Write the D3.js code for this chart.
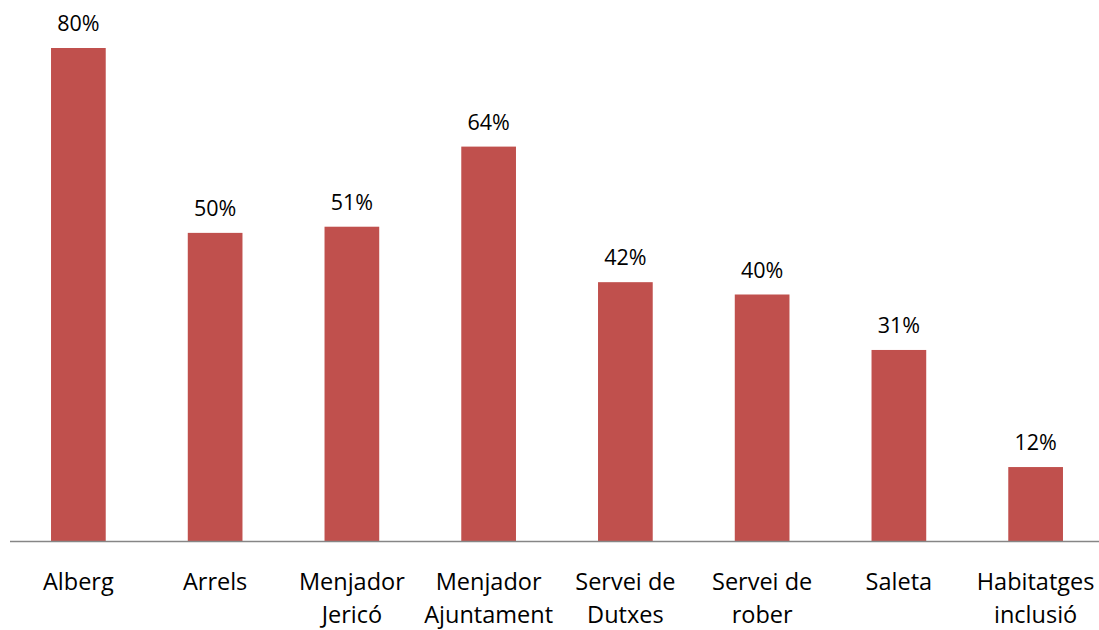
<!DOCTYPE html>
<html lang="en">
<head>
<meta charset="UTF-8"/>
<title>Bar chart</title>
<script src="https://d3js.org/d3.v7.min.js"></script>
<style>
  body { margin: 0; background: #fff; }
  text { font-family: "Open Sans", sans-serif; fill: #000; }
</style>
</head>
<body>
<div id="chart"></div>
<script>
// data
var categories = ["Alberg", "Arrels", "Menjador Jericó", "Menjador Ajuntament",
                  "Servei de Dutxes", "Servei de rober", "Saleta", "Habitatges inclusió"];
var catLines = [["Alberg"], ["Arrels"], ["Menjador", "Jericó"], ["Menjador", "Ajuntament"],
                ["Servei de", "Dutxes"], ["Servei de", "rober"], ["Saleta"], ["Habitatges", "inclusió"]];
var values = [80, 50, 51, 64, 42, 40, 31, 12];

var w = 1099, h = 630;
var baseY = 541;

var svg = d3.select("#chart").append("svg")
    .attr("width", w)
    .attr("height", h);

var xScale = d3.scaleBand()
    .domain(d3.range(categories.length))
    .range([10, 1104])
    .paddingInner(0.6)
    .paddingOuter(0.3);

var yScale = d3.scaleLinear()
    .domain([0, 80])
    .range([baseY, 48]);

// bars
svg.selectAll("rect")
    .data(values)
    .enter()
    .append("rect")
    .attr("x", function(d, i) { return xScale(i); })
    .attr("y", function(d) { return yScale(d); })
    .attr("width", xScale.bandwidth())
    .attr("height", function(d) { return baseY - yScale(d); })
    .attr("fill", "#C0504D");

// value labels
svg.selectAll(".val")
    .data(values)
    .enter()
    .append("text")
    .attr("class", "val")
    .attr("x", function(d, i) { return xScale(i) + xScale.bandwidth() / 2; })
    .attr("y", function(d) { return yScale(d) - 17; })
    .attr("text-anchor", "middle")
    .attr("font-size", "21.5px")
    .text(function(d) { return d + "%"; });

// axis line
svg.append("line")
    .attr("x1", 10).attr("x2", w)
    .attr("y1", baseY + 0.5).attr("y2", baseY + 0.5)
    .attr("stroke", "#868686")
    .attr("stroke-width", 1.5);

// category labels
var cats = svg.selectAll(".cat")
    .data(catLines)
    .enter()
    .append("text")
    .attr("class", "cat")
    .attr("text-anchor", "middle")
    .attr("font-size", "23.5px")
    .attr("x", function(d, i) { return xScale(i) + xScale.bandwidth() / 2; })
    .attr("y", 590);

cats.selectAll("tspan")
    .data(function(d) { return d; })
    .enter()
    .append("tspan")
    .attr("x", function() { return d3.select(this.parentNode).attr("x"); })
    .attr("dy", function(d, j) { return j === 0 ? 0 : 33; })
    .text(function(d) { return d; });
</script>
</body>
</html>
